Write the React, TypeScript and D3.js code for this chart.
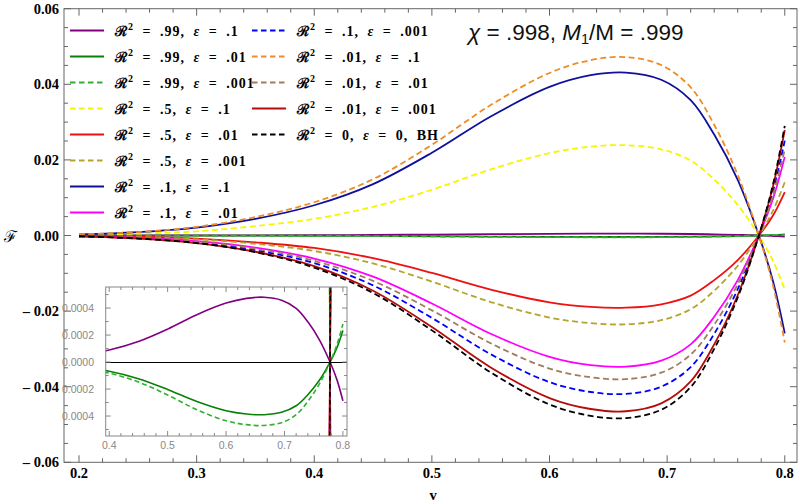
import { curveCatmullRom, line, range, scaleLinear } from "d3";

// sample points along v, shared by every series
const vGrid = [0.2, 0.25, 0.3, 0.35, 0.4, 0.45, 0.5, 0.55, 0.6, 0.635, 0.665, 0.695, 0.72, 0.74, 0.76, 0.778, 0.79, 0.8];

const r99e1 = [0.000003, 0.00001, 0.000023, 0.000049, 0.000089, 0.000152, 0.000244, 0.000351, 0.000437, 0.000472, 0.00048, 0.000458, 0.000398, 0.000298, 0.000163, 0, -0.000134, -0.000288];
const r99e01 = [-0.000002, -0.000007, -0.000016, -0.000036, -0.000068, -0.000123, -0.000203, -0.000293, -0.000361, -0.000385, -0.00039, -0.000372, -0.000324, -0.000242, -0.000133, 0, 0.000109, 0.000234];
const r99e001 = [-0.000002, -0.000008, -0.00002, -0.000043, -0.000082, -0.000148, -0.000244, -0.000353, -0.000435, -0.000464, -0.00047, -0.000449, -0.00039, -0.000291, -0.00016, 0, 0.000132, 0.000282];
const r5e1 = [0.0001, 0.0005, 0.0011, 0.0025, 0.0044, 0.0076, 0.0121, 0.0175, 0.0218, 0.0235, 0.0239, 0.0228, 0.0198, 0.0148, 0.0081, 0, -0.0067, -0.0143];
const r5e01 = [-0.0001, -0.0003, -0.0008, -0.0018, -0.0033, -0.006, -0.0099, -0.0143, -0.0177, -0.0189, -0.0191, -0.0182, -0.0159, -0.0118, -0.0065, 0, 0.0053, 0.0115];
const r5e001 = [-0.0001, -0.0004, -0.001, -0.0022, -0.0041, -0.0074, -0.0122, -0.0176, -0.0217, -0.0232, -0.0235, -0.0224, -0.0195, -0.0146, -0.008, 0, 0.0066, 0.0141];
const r1e1 = [0.0003, 0.0009, 0.0021, 0.0044, 0.008, 0.0136, 0.0219, 0.0315, 0.0393, 0.0424, 0.0431, 0.0412, 0.0358, 0.0267, 0.0147, 0, -0.0121, -0.0259];
const r1e01 = [-0.0002, -0.0006, -0.0015, -0.0032, -0.0061, -0.0109, -0.018, -0.026, -0.0321, -0.0343, -0.0347, -0.0331, -0.0288, -0.0215, -0.0118, 0, 0.0097, 0.0208];
const r1e001 = [-0.0002, -0.0007, -0.0018, -0.0039, -0.0073, -0.0132, -0.0218, -0.0314, -0.0388, -0.0414, -0.0419, -0.04, -0.0348, -0.026, -0.0142, 0, 0.0117, 0.0251];
const r01e1 = [0.0003, 0.0009, 0.0023, 0.0049, 0.0088, 0.0149, 0.024, 0.0345, 0.043, 0.0464, 0.0472, 0.0451, 0.0392, 0.0293, 0.016, 0, -0.0132, -0.0283];
const r01e01 = [-0.0002, -0.0006, -0.0016, -0.0035, -0.0067, -0.012, -0.0198, -0.0285, -0.0352, -0.0375, -0.038, -0.0363, -0.0315, -0.0236, -0.0129, 0, 0.0106, 0.0228];
const r01e001 = [-0.0002, -0.0008, -0.002, -0.0043, -0.0081, -0.0146, -0.0242, -0.0349, -0.043, -0.0459, -0.0465, -0.0444, -0.0386, -0.0288, -0.0158, 0, 0.013, 0.0279];
const blackHole = [-0.0002, -0.0008, -0.002, -0.0044, -0.0085, -0.0152, -0.0251, -0.0362, -0.0447, -0.0477, -0.0483, -0.0461, -0.0401, -0.03, -0.0164, 0, 0.0135, 0.029];

const seriesValues = [r99e1, r99e01, r99e001, r5e1, r5e01, r5e001, r1e1, r1e01, r1e001, r01e1, r01e01, r01e001, blackHole];
const legendR2 = [".99", ".99", ".99", ".5", ".5", ".5", ".1", ".1", ".1", ".01", ".01", ".01", "0"];
const legendEps = [".1", ".01", ".001", ".1", ".01", ".001", ".1", ".01", ".001", ".1", ".01", ".001", "0, BH"];

const colors = ["#800080", "#0a800a", "#2fb02f", "#f6f600", "#ee1111", "#b3a52c", "#10109c", "#ff00ff", "#0000ff", "#f08c28", "#a07c5c", "#b40c0c", "#000000"];
const dashed = [false, false, true, true, false, true, false, false, true, true, true, false, true];

const xTicks = [0.2, 0.3, 0.4, 0.5, 0.6, 0.7, 0.8];
const xTickLabels = ["0.2", "0.3", "0.4", "0.5", "0.6", "0.7", "0.8"];
const yTicks = [-0.06, -0.04, -0.02, 0, 0.02, 0.04, 0.06];
const yTickLabels = ["\u2013 0.06", "\u2013 0.04", "\u2013 0.02", "0.00", "0.02", "0.04", "0.06"];

const insetXTicks = [0.4, 0.5, 0.6, 0.7, 0.8];
const insetXTickLabels = ["0.4", "0.5", "0.6", "0.7", "0.8"];
const insetYTicks = [0.0004, 0.0002, 0, -0.0002, -0.0004];
const insetYTickLabels = ["0.0004", "0.0002", "0.0000", "0.0002", "0.0004"];

const serif = "'Liberation Serif', 'DejaVu Serif', serif";
const sans = "'Liberation Sans', Arial, sans-serif";

export default function App() {
  const width = 800;
  const height = 504;

  const left = 64;
  const right = 797;
  const top = 8.7;
  const bottom = 462.3;

  const x = scaleLinear().domain([0.18724, 0.8104]).range([left, right]);
  const y = scaleLinear().domain([-0.06, 0.06]).range([bottom, top]);

  const inL = 105.7;
  const inR = 347;
  const inT = 287;
  const inB = 436;
  const ix = scaleLinear().domain([0.394, 0.807]).range([inL, inR]);
  const iy = scaleLinear().domain([-0.000548, 0.000556]).range([inB, inT]);

  const mainLine = line<number>()
    .x((_, i) => x(vGrid[i]))
    .y((d) => y(d))
    .curve(curveCatmullRom);
  const insetLine = line<number>()
    .x((_, i) => ix(vGrid[i]))
    .y((d) => iy(d))
    .curve(curveCatmullRom);

  const xMinor = range(10, 41).filter((i) => i % 5 !== 0).map((i) => i * 0.02);
  const yMinor = range(-12, 13).filter((i) => i % 4 !== 0).map((i) => i * 0.005);
  const ixMinor = range(20, 41).filter((i) => i % 5 !== 0).map((i) => i * 0.02);
  const iyMinor = [-5, -3, -1, 1, 3, 5].map((i) => i * 0.0001);

  const frameColor = "#666";
  const insetFrame = "#888";

  const legendRows = seriesValues.map((_, i) => ({
    col: i < 8 ? 0 : 1,
    row: i < 8 ? i : i - 8,
  }));

  const zeroY = Math.round(iy(0)) + 0.5;

  return (
    <svg
      width={width}
      height={height}
      viewBox={`0 0 ${width} ${height}`}
      style={{ position: "absolute", left: 0, top: 0, background: "#fff" }}
    >
      <defs>
        <clipPath id="mainClip">
          <rect x={left} y={top} width={right - left} height={bottom - top} />
        </clipPath>
        <clipPath id="insetClip">
          <rect x={inL} y={inT} width={inR - inL} height={inB - inT} />
        </clipPath>
      </defs>

      <rect x={0} y={0} width={width} height={height} fill="#fff" />

      {/* main curves */}
      <g clipPath="url(#mainClip)">
        {seriesValues.map((vals, i) => (
          <path
            key={i}
            d={mainLine(vals) ?? ""}
            fill="none"
            stroke={colors[i]}
            strokeWidth={1.8}
            strokeDasharray={dashed[i] ? "6 3.5" : undefined}
          />
        ))}
      </g>

      {/* main frame + ticks */}
      <rect x={left} y={top} width={right - left} height={bottom - top} fill="none" stroke={frameColor} strokeWidth={1} />
      {xTicks.map((t) => (
        <g key={`xt${t}`} stroke={frameColor}>
          <line x1={x(t)} x2={x(t)} y1={bottom} y2={bottom - 7} />
          <line x1={x(t)} x2={x(t)} y1={top} y2={top + 7} />
        </g>
      ))}
      {xMinor.map((t) => (
        <g key={`xm${t}`} stroke={frameColor}>
          <line x1={x(t)} x2={x(t)} y1={bottom} y2={bottom - 4} />
          <line x1={x(t)} x2={x(t)} y1={top} y2={top + 4} />
        </g>
      ))}
      {yTicks.map((t) => (
        <g key={`yt${t}`} stroke={frameColor}>
          <line x1={left} x2={left + 7} y1={y(t)} y2={y(t)} />
          <line x1={right} x2={right - 7} y1={y(t)} y2={y(t)} />
        </g>
      ))}
      {yMinor.map((t) => (
        <g key={`ym${t}`} stroke={frameColor}>
          <line x1={left} x2={left + 4} y1={y(t)} y2={y(t)} />
          <line x1={right} x2={right - 4} y1={y(t)} y2={y(t)} />
        </g>
      ))}

      {xTicks.map((t, i) => (
        <text key={`xl${t}`} x={x(t)} y={478} textAnchor="middle" fontFamily={serif} fontWeight="bold" fontSize={14.5}>
          {xTickLabels[i]}
        </text>
      ))}
      {yTicks.map((t, i) => (
        <text key={`yl${t}`} x={59} y={y(t) + 5} textAnchor="end" fontFamily={serif} fontWeight="bold" fontSize={14.5}>
          {yTickLabels[i]}
        </text>
      ))}

      <text x={433} y={500} textAnchor="middle" fontFamily={serif} fontWeight="bold" fontSize={14.5}>
        v
      </text>
      <text x={10} y={242} textAnchor="middle" fontFamily={serif} fontSize={16}>
        ℱ
      </text>

      {/* legend */}
      {legendRows.map(({ col, row }, i) => {
        const lx = col === 0 ? 70 : 252;
        const ly = 30.5 + row * 26;
        return (
          <g key={`lg${i}`}>
            <line
              x1={lx}
              x2={lx + 34}
              y1={ly}
              y2={ly}
              stroke={colors[i]}
              strokeWidth={1.8}
              strokeDasharray={dashed[i] ? "5.5 3.5" : undefined}
            />
            <text
              x={lx + 45}
              y={ly + 5}
              fontFamily={serif}
              fontWeight="bold"
              fontSize={14}
              letterSpacing={1}
              wordSpacing={4}
              xmlSpace="preserve"
            >
              <tspan>ℛ</tspan>
              <tspan fontSize={10} dy={-6}>2</tspan>
              <tspan dy={6}>{` = ${legendR2[i]}, `}</tspan>
              <tspan fontStyle="italic">ε</tspan>
              <tspan>{` = ${legendEps[i]}`}</tspan>
            </text>
          </g>
        );
      })}

      {/* title */}
      <text x={468} y={40} fontFamily={sans} fontSize={22.5} fill="#111">
        <tspan fontStyle="italic">χ</tspan>
        <tspan>{" = .998, "}</tspan>
        <tspan fontStyle="italic">M</tspan>
        <tspan fontSize={14.5} dy={4}>1</tspan>
        <tspan dy={-4}>/M = .999</tspan>
      </text>

      {/* inset */}
      <rect x={inL} y={inT} width={inR - inL} height={inB - inT} fill="#fff" />
      <line x1={inL} x2={inR} y1={zeroY} y2={zeroY} stroke="#000" strokeWidth={1} />
      <g clipPath="url(#insetClip)">
        {seriesValues.map((vals, i) => (
          <path
            key={`in${i}`}
            d={insetLine(vals) ?? ""}
            fill="none"
            stroke={colors[i]}
            strokeWidth={1.6}
            strokeDasharray={dashed[i] ? "5 3" : undefined}
          />
        ))}
      </g>
      <rect x={inL} y={inT} width={inR - inL} height={inB - inT} fill="none" stroke={insetFrame} strokeWidth={1} />
      {insetXTicks.map((t) => (
        <g key={`ixt${t}`} stroke={insetFrame}>
          <line x1={ix(t)} x2={ix(t)} y1={inB} y2={inB - 5} />
          <line x1={ix(t)} x2={ix(t)} y1={inT} y2={inT + 5} />
        </g>
      ))}
      {ixMinor.map((t) => (
        <g key={`ixm${t}`} stroke={insetFrame}>
          <line x1={ix(t)} x2={ix(t)} y1={inB} y2={inB - 3} />
          <line x1={ix(t)} x2={ix(t)} y1={inT} y2={inT + 3} />
        </g>
      ))}
      {insetYTicks.map((t) => (
        <g key={`iyt${t}`} stroke={insetFrame}>
          <line x1={inL} x2={inL + 5} y1={iy(t)} y2={iy(t)} />
          <line x1={inR} x2={inR - 5} y1={iy(t)} y2={iy(t)} />
        </g>
      ))}
      {iyMinor.map((t) => (
        <g key={`iym${t}`} stroke={insetFrame}>
          <line x1={inL} x2={inL + 3} y1={iy(t)} y2={iy(t)} />
          <line x1={inR} x2={inR - 3} y1={iy(t)} y2={iy(t)} />
        </g>
      ))}
      {insetXTicks.map((t, i) => (
        <text key={`ixl${t}`} x={ix(t)} y={449} textAnchor="middle" fontFamily={sans} fontSize={10.5} fill="#888">
          {insetXTickLabels[i]}
        </text>
      ))}
      {insetYTicks.map((t, i) => (
        <text key={`iyl${t}`} x={94} y={iy(t) + 3.5} textAnchor="end" fontFamily={sans} fontSize={10.5} fill="#888">
          {insetYTickLabels[i]}
        </text>
      ))}
    </svg>
  );
}
